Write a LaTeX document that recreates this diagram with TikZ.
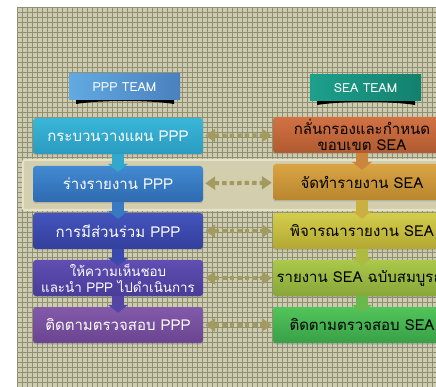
\documentclass[tikz,border=0pt]{standalone}
\usepackage{fontspec}
\setmainfont[Script=Thai]{Loma}
\usetikzlibrary{arrows.meta,shadows}
\newcommand\smallline{\fontsize{13.4}{15.5}\selectfont}
\definecolor{gridbg}{HTML}{CDCCB1}
\definecolor{gridln}{HTML}{8F9072}
\definecolor{bandbg}{HTML}{D3CEAD}
\definecolor{bandln}{HTML}{E6E2CA}
\definecolor{dotcol}{HTML}{A39A62}
\definecolor{lt1}{HTML}{3AB6D8}\definecolor{lb1}{HTML}{2A9BC0}
\definecolor{lt2}{HTML}{428AD2}\definecolor{lb2}{HTML}{2E6AB0}
\definecolor{lt3}{HTML}{4454BC}\definecolor{lb3}{HTML}{333F9C}
\definecolor{lt4}{HTML}{604EB2}\definecolor{lb4}{HTML}{493B98}
\definecolor{lt5}{HTML}{825AAA}\definecolor{lb5}{HTML}{6A4490}
\definecolor{rt1}{HTML}{D27244}\definecolor{rb1}{HTML}{B05A30}
\definecolor{rt2}{HTML}{DAA444}\definecolor{rb2}{HTML}{B8862E}
\definecolor{rt3}{HTML}{D4CC4C}\definecolor{rb3}{HTML}{B2A832}
\definecolor{rt4}{HTML}{AAC84A}\definecolor{rb4}{HTML}{88A638}
\definecolor{rt5}{HTML}{52C45A}\definecolor{rb5}{HTML}{38A048}
\definecolor{ppp1}{HTML}{62AAE2}\definecolor{ppp2}{HTML}{4A80BE}
\definecolor{sea1}{HTML}{1CA08C}\definecolor{sea2}{HTML}{14806E}
\begin{document}
\begin{tikzpicture}[x=1pt,y=-1pt,
  box/.style={rounded corners=3pt,minimum width=170pt,minimum height=36pt,align=center,
    inner sep=1pt,font=\fontsize{15}{16}\selectfont,
    drop shadow={shadow xshift=0pt,shadow yshift=-1.5pt,opacity=0.35}},
  lbox/.style={box,text=white},
  rbox/.style={box,text=black,minimum width=178pt},
  head/.style={minimum width=111pt,minimum height=26pt,text=white,inner sep=0pt,
    font=\fontsize{12.5}{14}\selectfont},
  downarr/.style={line width=12pt,-{Triangle[width=20pt,length=8pt]}},
  dotarr/.style={dotcol,line width=4pt,dash pattern=on 4.5pt off 3pt,shorten <=2pt,shorten >=1pt,
    {Triangle[width=13pt,length=10pt]}-{Triangle[width=13pt,length=10pt]}}]
\clip (0,0) rectangle (436,387);
\fill[white] (0,0) rectangle (436,387);
\fill[gridbg] (17,7) rectangle (436,387);
\foreach \a in {17,22,...,436} {
  \draw[gridln,line width=0.5pt] (\a,7) -- (\a,387);
}
\foreach \b in {7,12,...,387} {
  \draw[gridln,line width=0.5pt] (17,\b) -- (436,\b);
}
\draw[bandln,fill=bandbg,line width=2pt,rounded corners=2pt] (23,160) rectangle (442,210);
\fill[black] (76,98) -- (174,98) -- (174,104) .. controls (150,100) and (100,100) .. (76,104) -- cycle;
\fill[black] (317,99) -- (415,99) -- (415,105) .. controls (391,101) and (341,101) .. (317,105) -- cycle;
\node[head,left color=ppp1,right color=ppp2] (ppp) at (124.5,87) {PPP TEAM};
\node[head,left color=sea1,right color=sea2] (sea) at (365.5,88) {SEA TEAM};
\foreach \i/\y/\t in {1/136/กระบวนวางแผน PPP,2/184/ร่างรายงาน PPP,3/231/การมีส่วนร่วม PPP,
    4/278/{\smallline ให้ความเห็นชอบ\\\smallline และนำ PPP ไปดำเนินการ},5/325/ติดตามตรวจสอบ PPP} {
  \node[lbox,top color=lt\i,bottom color=lb\i] (l\i) at (118,\y) {\t};
}
\foreach \i/\y/\t in {1/135/{กลั่นกรองและกำหนด\\ขอบเขต SEA},2/182/จัดทำรายงาน SEA,3/231/พิจารณารายงาน SEA,
    4/278/รายงาน SEA ฉบับสมบูรณ์,5/325/ติดตามตรวจสอบ SEA} {
  \node[rbox,top color=rt\i,bottom color=rb\i] (r\i) at (362,\y) {\t};
}
\foreach \i [evaluate=\i as \j using int(\i+1)] in {1,...,4} {
  \draw[downarr,lt\i!50!lb\i] (l\i.south) -- ([yshift=-6pt]l\j.north);
  \draw[downarr,rt\j!60!rb\i] (r\i.south) -- ([yshift=-6pt]r\j.north);
}
\foreach \i in {1,...,5} {
  \draw[dotarr] (l\i) -- (r\i);
}
\end{tikzpicture}
\end{document}
